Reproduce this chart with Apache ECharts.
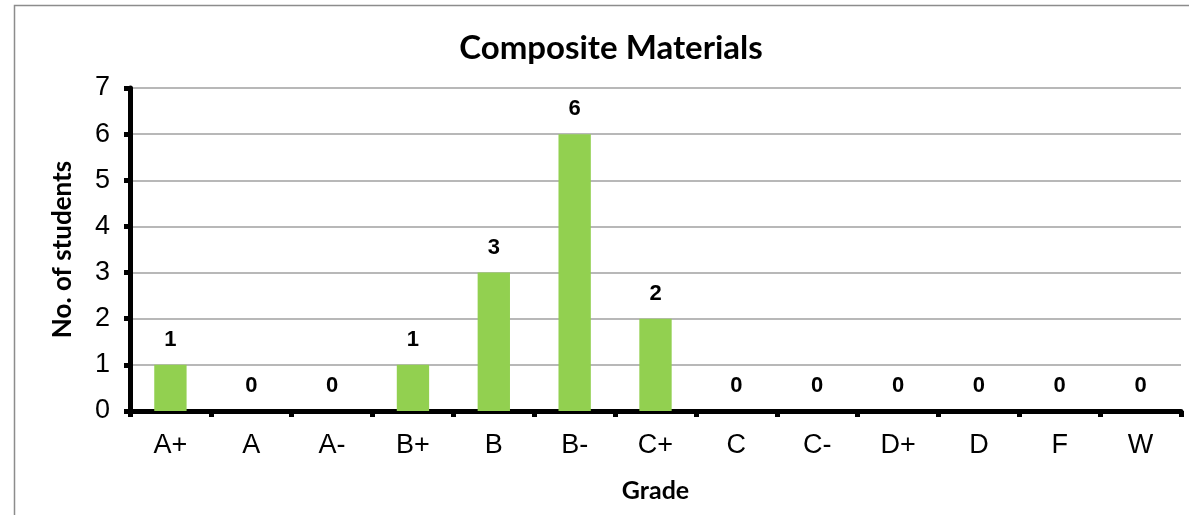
<!DOCTYPE html>
<html>
<head>
<meta charset="utf-8">
<script src="https://cdn.jsdelivr.net/npm/echarts@6/dist/echarts.min.js"></script>
<style>
  html, body { margin: 0; padding: 0; background: #fff; }
  #chart { width: 1189px; height: 515px; }
</style>
</head>
<body>
<div id="chart"></div>
<script>
var grades = ["A+", "A", "A-", "B+", "B", "B-", "C+", "C", "C-", "D+", "D", "F", "W"];
var students = [1, 0, 0, 1, 3, 6, 2, 0, 0, 0, 0, 0, 0];

var chart = echarts.init(document.getElementById("chart"));

var option = {
  animation: false,
  title: {
    text: "Composite Materials",
    left: 606,
    top: 27,
    textAlign: "center",
    textStyle: {
      fontFamily: "Lato",
      fontWeight: "bold",
      fontSize: 33,
      color: "#000",
    },
  },
  graphic: [
    {
      type: "rect",
      shape: { x: 14.5, y: 5.5, width: 1300, height: 600 },
      style: { fill: "none", stroke: "#8c8c8c", lineWidth: 1.5 },
      silent: true,
    },
  ],
  grid: {
    left: 130,
    right: 8,
    top: 88,
    bottom: 104,
    containLabel: false,
  },
  xAxis: {
    type: "category",
    data: grades,
    name: "Grade",
    nameLocation: "middle",
    nameGap: 67,
    nameTextStyle: {
      fontFamily: "Lato",
      fontWeight: "bold",
      fontSize: 25,
      color: "#000",
    },
    axisLine: { lineStyle: { color: "#000", width: 5 } },
    axisTick: { show: true, length: 6, lineStyle: { color: "#000", width: 5 } },
    axisLabel: {
      margin: 21,
      fontFamily: "Liberation Sans",
      fontSize: 27,
      color: "#000",
    },
  },
  yAxis: {
    type: "value",
    min: 0,
    max: 7,
    interval: 1,
    name: "No. of students",
    nameLocation: "middle",
    nameGap: 54,
    nameTextStyle: {
      fontFamily: "Lato",
      fontWeight: "bold",
      fontSize: 26,
      color: "#000",
    },
    axisLine: { show: true, lineStyle: { color: "#000", width: 5 } },
    axisTick: { show: true, length: 6, lineStyle: { color: "#000", width: 5 } },
    axisLabel: {
      margin: 20,
      fontFamily: "Liberation Sans",
      fontSize: 27,
      color: "#000",
    },
    splitLine: { show: true, lineStyle: { color: "#a0a0a0", width: 1.5 } },
  },
  series: [
    {
      type: "bar",
      data: students,
      barWidth: "40%",
      itemStyle: { color: "#92d050" },
      label: {
        show: true,
        position: "top",
        distance: 14,
        fontFamily: "Liberation Sans",
        fontWeight: "bold",
        fontSize: 22,
        color: "#000",
      },
    },
  ],
};

chart.setOption(option);
</script>
</body>
</html>
